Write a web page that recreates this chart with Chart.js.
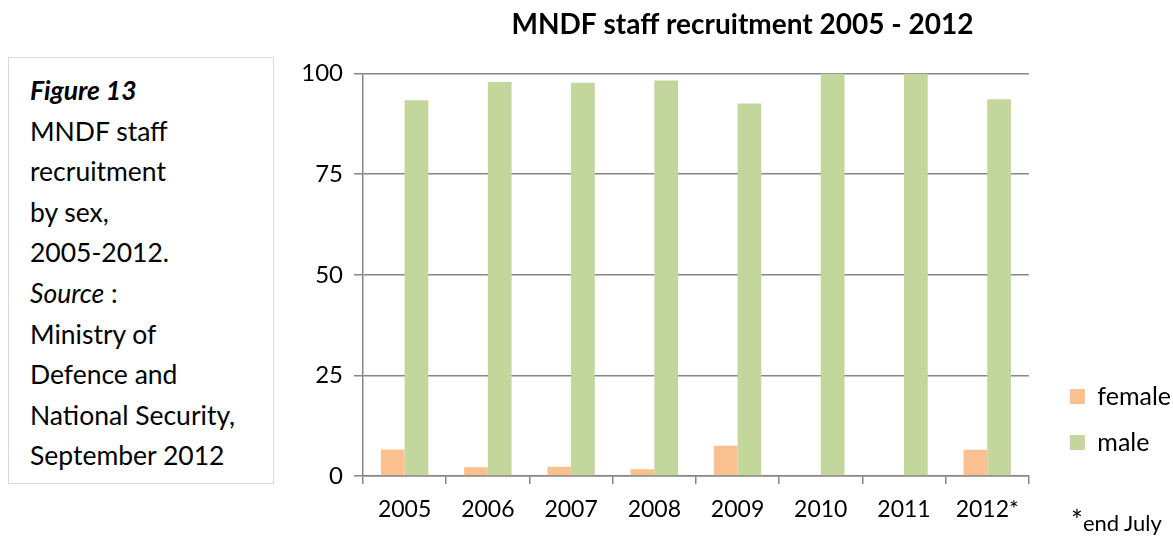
<!DOCTYPE html>
<html>
<head>
<meta charset="utf-8">
<script src="https://cdn.jsdelivr.net/npm/chart.js@4"></script>
<style>
  html, body { margin: 0; padding: 0; background: #fff; overflow: hidden; }
  body { width: 1173px; height: 536px; position: relative; font-family: Lato, sans-serif; color: #000; }
  #caption {
    position: absolute; left: 8px; top: 57px; width: 266px; height: 427px;
    border: 1px solid #d9d9d9; box-sizing: border-box;
    padding: 12px 0 0 21px; font-size: 26.5px; line-height: 40.6px;
  }
  #wrap { position: absolute; left: 290px; top: 0; width: 903px; height: 536px; }
  #note { position: absolute; left: 1071px; top: 503px; font-size: 22px; white-space: nowrap; }
  #note b { font-weight: normal; font-size: 28px; }
</style>
</head>
<body>
<div id="caption">
  <b><i>Figure 13</i></b><br>
  MNDF staff<br>
  recruitment<br>
  by sex,<br>
  2005-2012.<br>
  <i>Source</i> :<br>
  Ministry of<br>
  Defence and<br>
  National Security,<br>
  September 2012
</div>
<div id="wrap"><canvas id="recruitChart"></canvas></div>
<div id="note"><b>*</b>end July</div>
<script>
// MNDF staff recruitment by sex, per cent
const years = ['2005', '2006', '2007', '2008', '2009', '2010', '2011', '2012*'];
const female = [6.6, 2.2, 2.3, 1.7, 7.5, 0, 0, 6.5];
const male = [93.4, 97.9, 97.7, 98.3, 92.6, 100, 100, 93.6];
const yTicks = [0, 25, 50, 75, 100];

const gridGrey = '#868686';

// title sits right of centre and legend items further from the plot
// than the built-in options allow
const boxNudge = {
    id: 'boxNudge',
    afterLayout(chart) {
        chart.legend.left += 20;
        chart.legend.right += 20;
        chart.titleBlock.left += 17;
        chart.titleBlock.right += 17;
    }
};

const ctx = document.getElementById('recruitChart').getContext('2d');
const recruitChart = new Chart(ctx, {
    type: 'bar',
    data: {
        labels: years,
        datasets: [
            {
                label: 'female',
                data: female,
                backgroundColor: '#FAC090'
            },
            {
                label: 'male',
                data: male,
                backgroundColor: '#C3D69B'
            }
        ]
    },
    options: {
        responsive: true,
        maintainAspectRatio: false,
        animation: false,
        layout: { padding: { right: 32 } },
        datasets: {
            bar: { categoryPercentage: 0.57, barPercentage: 1.0 }
        },
        plugins: {
            title: {
                display: true,
                text: 'MNDF staff recruitment 2005 - 2012',
                color: '#000',
                font: { family: 'Lato', size: 28, weight: 'bold' },
                padding: { top: 8, bottom: 32 }
            },
            legend: {
                display: true,
                position: 'right',
                align: 'end',
                fullSize: false,
                labels: {
                    boxWidth: 15,
                    boxHeight: 15,
                    padding: 21,
                    color: '#000',
                    font: { family: 'Lato', size: 25 }
                }
            },
            tooltip: { enabled: false }
        },
        scales: {
            x: {
                grid: {
                    display: true,
                    drawOnChartArea: false,
                    drawTicks: true,
                    tickLength: 8,
                    color: gridGrey,
                    lineWidth: 1.5
                },
                border: { display: true, color: gridGrey, width: 1.5 },
                ticks: {
                    color: '#000',
                    padding: 12,
                    font: { family: 'Lato', size: 23 }
                },
                afterFit: function (scale) { scale.height = 60; }
            },
            y: {
                min: 0,
                max: 100,
                afterBuildTicks: function (scale) {
                    scale.ticks = yTicks.map(v => ({ value: v }));
                },
                grid: {
                    color: gridGrey,
                    lineWidth: 1.5,
                    tickLength: 9
                },
                border: { display: true, color: gridGrey, width: 1.5 },
                ticks: {
                    color: '#000',
                    padding: 11,
                    font: { family: 'Lato', size: 24 }
                },
                afterFit: function (scale) { scale.width = 73; }
            }
        }
    },
    plugins: [boxNudge]
});
</script>
</body>
</html>
